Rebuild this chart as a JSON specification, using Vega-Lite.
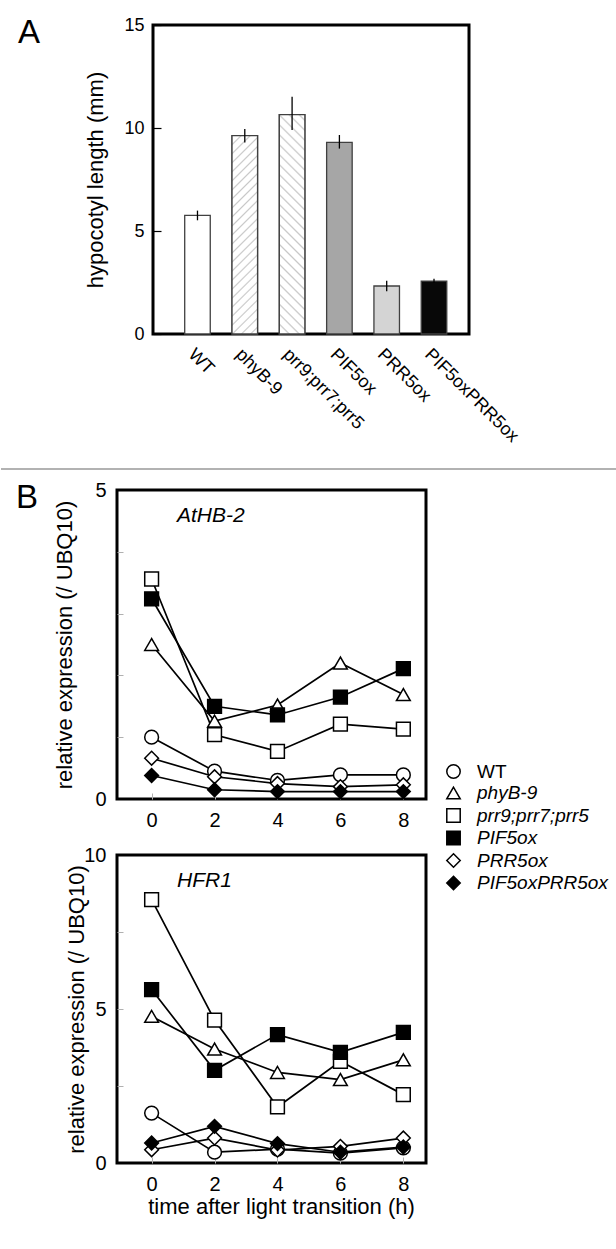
{
  "$schema": "https://vega.github.io/schema/vega-lite/v6.json",
  "padding": {"left": 0, "top": 14, "right": 0, "bottom": 0},
  "spacing": 8,
  "config": {
    "font": "Liberation Sans",
    "view": {"stroke": "black", "strokeWidth": 3},
    "axis": {"labelColor": "black", "titleColor": "black", "grid": false, "domain": false, "titleFontWeight": "normal"},
    "title": {"color": "black", "fontWeight": "normal"},
    "legend": {"labelColor": "black"}
  },
  "datasets": {
    "lengths": [
      {"genotype": "WT", "length": 5.76, "lo": 5.52, "hi": 5.99},
      {"genotype": "phyB-9", "length": 9.63, "lo": 9.3, "hi": 9.95},
      {"genotype": "prr9;prr7;prr5", "length": 10.65, "lo": 9.9, "hi": 11.52},
      {"genotype": "PIF5ox", "length": 9.3, "lo": 9.0, "hi": 9.66},
      {"genotype": "PRR5ox", "length": 2.33, "lo": 2.07, "hi": 2.59},
      {"genotype": "PIF5oxPRR5ox", "length": 2.57, "lo": 2.48, "hi": 2.68}
    ],
    "expression": [
      {"gene": "AtHB-2", "genotype": "WT", "time": 0, "value": 1.0},
      {"gene": "AtHB-2", "genotype": "WT", "time": 2, "value": 0.45},
      {"gene": "AtHB-2", "genotype": "WT", "time": 4, "value": 0.3},
      {"gene": "AtHB-2", "genotype": "WT", "time": 6, "value": 0.39},
      {"gene": "AtHB-2", "genotype": "WT", "time": 8, "value": 0.39},
      {"gene": "AtHB-2", "genotype": "phyB-9", "time": 0, "value": 2.5},
      {"gene": "AtHB-2", "genotype": "phyB-9", "time": 2, "value": 1.26},
      {"gene": "AtHB-2", "genotype": "phyB-9", "time": 4, "value": 1.52},
      {"gene": "AtHB-2", "genotype": "phyB-9", "time": 6, "value": 2.2},
      {"gene": "AtHB-2", "genotype": "phyB-9", "time": 8, "value": 1.69},
      {"gene": "AtHB-2", "genotype": "prr9;prr7;prr5", "time": 0, "value": 3.56},
      {"gene": "AtHB-2", "genotype": "prr9;prr7;prr5", "time": 2, "value": 1.04},
      {"gene": "AtHB-2", "genotype": "prr9;prr7;prr5", "time": 4, "value": 0.77},
      {"gene": "AtHB-2", "genotype": "prr9;prr7;prr5", "time": 6, "value": 1.21},
      {"gene": "AtHB-2", "genotype": "prr9;prr7;prr5", "time": 8, "value": 1.13},
      {"gene": "AtHB-2", "genotype": "PIF5ox", "time": 0, "value": 3.24},
      {"gene": "AtHB-2", "genotype": "PIF5ox", "time": 2, "value": 1.5},
      {"gene": "AtHB-2", "genotype": "PIF5ox", "time": 4, "value": 1.36},
      {"gene": "AtHB-2", "genotype": "PIF5ox", "time": 6, "value": 1.65},
      {"gene": "AtHB-2", "genotype": "PIF5ox", "time": 8, "value": 2.11},
      {"gene": "AtHB-2", "genotype": "PRR5ox", "time": 0, "value": 0.66},
      {"gene": "AtHB-2", "genotype": "PRR5ox", "time": 2, "value": 0.36},
      {"gene": "AtHB-2", "genotype": "PRR5ox", "time": 4, "value": 0.25},
      {"gene": "AtHB-2", "genotype": "PRR5ox", "time": 6, "value": 0.2},
      {"gene": "AtHB-2", "genotype": "PRR5ox", "time": 8, "value": 0.23},
      {"gene": "AtHB-2", "genotype": "PIF5oxPRR5ox", "time": 0, "value": 0.38},
      {"gene": "AtHB-2", "genotype": "PIF5oxPRR5ox", "time": 2, "value": 0.15},
      {"gene": "AtHB-2", "genotype": "PIF5oxPRR5ox", "time": 4, "value": 0.12},
      {"gene": "AtHB-2", "genotype": "PIF5oxPRR5ox", "time": 6, "value": 0.12},
      {"gene": "AtHB-2", "genotype": "PIF5oxPRR5ox", "time": 8, "value": 0.12},
      {"gene": "HFR1", "genotype": "WT", "time": 0, "value": 1.62},
      {"gene": "HFR1", "genotype": "WT", "time": 2, "value": 0.35},
      {"gene": "HFR1", "genotype": "WT", "time": 4, "value": 0.45},
      {"gene": "HFR1", "genotype": "WT", "time": 6, "value": 0.32},
      {"gene": "HFR1", "genotype": "WT", "time": 8, "value": 0.49},
      {"gene": "HFR1", "genotype": "phyB-9", "time": 0, "value": 4.76},
      {"gene": "HFR1", "genotype": "phyB-9", "time": 2, "value": 3.7},
      {"gene": "HFR1", "genotype": "phyB-9", "time": 4, "value": 2.94},
      {"gene": "HFR1", "genotype": "phyB-9", "time": 6, "value": 2.71},
      {"gene": "HFR1", "genotype": "phyB-9", "time": 8, "value": 3.35},
      {"gene": "HFR1", "genotype": "prr9;prr7;prr5", "time": 0, "value": 8.55},
      {"gene": "HFR1", "genotype": "prr9;prr7;prr5", "time": 2, "value": 4.64},
      {"gene": "HFR1", "genotype": "prr9;prr7;prr5", "time": 4, "value": 1.82},
      {"gene": "HFR1", "genotype": "prr9;prr7;prr5", "time": 6, "value": 3.3},
      {"gene": "HFR1", "genotype": "prr9;prr7;prr5", "time": 8, "value": 2.22},
      {"gene": "HFR1", "genotype": "PIF5ox", "time": 0, "value": 5.63},
      {"gene": "HFR1", "genotype": "PIF5ox", "time": 2, "value": 3.01},
      {"gene": "HFR1", "genotype": "PIF5ox", "time": 4, "value": 4.17},
      {"gene": "HFR1", "genotype": "PIF5ox", "time": 6, "value": 3.59},
      {"gene": "HFR1", "genotype": "PIF5ox", "time": 8, "value": 4.24},
      {"gene": "HFR1", "genotype": "PRR5ox", "time": 0, "value": 0.43},
      {"gene": "HFR1", "genotype": "PRR5ox", "time": 2, "value": 0.81},
      {"gene": "HFR1", "genotype": "PRR5ox", "time": 4, "value": 0.42},
      {"gene": "HFR1", "genotype": "PRR5ox", "time": 6, "value": 0.54},
      {"gene": "HFR1", "genotype": "PRR5ox", "time": 8, "value": 0.81},
      {"gene": "HFR1", "genotype": "PIF5oxPRR5ox", "time": 0, "value": 0.65},
      {"gene": "HFR1", "genotype": "PIF5oxPRR5ox", "time": 2, "value": 1.19},
      {"gene": "HFR1", "genotype": "PIF5oxPRR5ox", "time": 4, "value": 0.63},
      {"gene": "HFR1", "genotype": "PIF5oxPRR5ox", "time": 6, "value": 0.35},
      {"gene": "HFR1", "genotype": "PIF5oxPRR5ox", "time": 8, "value": 0.52}
    ]
  },
  "vconcat": [
    {
      "spacing": 0,
      "hconcat": [
        {
          "width": 82,
          "height": 309,
          "view": {"stroke": null},
          "title": {"text": "A", "orient": "top", "anchor": "start", "frame": "group", "fontSize": 33, "fontWeight": "normal", "offset": -25, "dx": 17},
          "data": {"values": []},
          "mark": "point",
          "encoding": {}
        },
        {
          "width": 316,
          "height": 309,
          "data": {"name": "lengths"},
          "encoding": {
            "x": {
              "field": "genotype", "type": "nominal", "sort": null,
              "scale": {"domain": ["WT", "phyB-9", "prr9;prr7;prr5", "PIF5ox", "PRR5ox", "PIF5oxPRR5ox"], "paddingInner": 0.46, "paddingOuter": 0.57, "align": 0.588},
              "axis": {"title": null, "labelAngle": 45, "labelAlign": "left", "labelBaseline": "top", "labelFontSize": 18, "labelPadding": 11, "ticks": false, "domain": false}
            },
            "y": {
              "field": "length", "type": "quantitative",
              "scale": {"domain": [0, 15], "nice": false},
              "axis": {"title": "hypocotyl length (mm)", "titleFontSize": 22, "titlePadding": 16, "values": [0, 5, 10, 15], "tickSize": -8, "tickColor": "black", "tickWidth": 1.2, "labelFontSize": 18, "labelPadding": 17}
            }
          },
          "layer": [
            {
              "mark": {"type": "bar", "stroke": "#404040", "strokeWidth": 1.3},
              "encoding": {
                "fill": {"field": "genotype", "type": "nominal", "legend": null,
                  "scale": {"domain": ["WT", "phyB-9", "prr9;prr7;prr5", "PIF5ox", "PRR5ox", "PIF5oxPRR5ox"], "range": ["#ffffff", "#ffffff", "#ffffff", "#a6a6a6", "#d4d4d4", "#080808"]}}
              }
            },
            {
              "transform": [{"filter": "datum.genotype === 'phyB-9'"}],
              "mark": {"type": "bar", "stroke": "#404040", "strokeWidth": 1.3,
                "fill": {"gradient": "linear", "x1": 0, "y1": 0, "x2": 0.143, "y2": 1.12, "stops": [
                  {"offset": 0, "color": "#ffffff"},
                  {"offset": 0.033, "color": "#ffffff"}, {"offset": 0.04, "color": "#c8c8c8"}, {"offset": 0.047, "color": "#ffffff"},
                  {"offset": 0.073, "color": "#ffffff"}, {"offset": 0.08, "color": "#c8c8c8"}, {"offset": 0.087, "color": "#ffffff"},
                  {"offset": 0.113, "color": "#ffffff"}, {"offset": 0.12, "color": "#c8c8c8"}, {"offset": 0.127, "color": "#ffffff"},
                  {"offset": 0.153, "color": "#ffffff"}, {"offset": 0.16, "color": "#c8c8c8"}, {"offset": 0.167, "color": "#ffffff"},
                  {"offset": 0.193, "color": "#ffffff"}, {"offset": 0.2, "color": "#c8c8c8"}, {"offset": 0.207, "color": "#ffffff"},
                  {"offset": 0.233, "color": "#ffffff"}, {"offset": 0.24, "color": "#c8c8c8"}, {"offset": 0.247, "color": "#ffffff"},
                  {"offset": 0.273, "color": "#ffffff"}, {"offset": 0.28, "color": "#c8c8c8"}, {"offset": 0.287, "color": "#ffffff"},
                  {"offset": 0.313, "color": "#ffffff"}, {"offset": 0.32, "color": "#c8c8c8"}, {"offset": 0.327, "color": "#ffffff"},
                  {"offset": 0.353, "color": "#ffffff"}, {"offset": 0.36, "color": "#c8c8c8"}, {"offset": 0.367, "color": "#ffffff"},
                  {"offset": 0.393, "color": "#ffffff"}, {"offset": 0.4, "color": "#c8c8c8"}, {"offset": 0.407, "color": "#ffffff"},
                  {"offset": 0.433, "color": "#ffffff"}, {"offset": 0.44, "color": "#c8c8c8"}, {"offset": 0.447, "color": "#ffffff"},
                  {"offset": 0.473, "color": "#ffffff"}, {"offset": 0.48, "color": "#c8c8c8"}, {"offset": 0.487, "color": "#ffffff"},
                  {"offset": 0.513, "color": "#ffffff"}, {"offset": 0.52, "color": "#c8c8c8"}, {"offset": 0.527, "color": "#ffffff"},
                  {"offset": 0.553, "color": "#ffffff"}, {"offset": 0.56, "color": "#c8c8c8"}, {"offset": 0.567, "color": "#ffffff"},
                  {"offset": 0.593, "color": "#ffffff"}, {"offset": 0.6, "color": "#c8c8c8"}, {"offset": 0.607, "color": "#ffffff"},
                  {"offset": 0.633, "color": "#ffffff"}, {"offset": 0.64, "color": "#c8c8c8"}, {"offset": 0.647, "color": "#ffffff"},
                  {"offset": 0.673, "color": "#ffffff"}, {"offset": 0.68, "color": "#c8c8c8"}, {"offset": 0.687, "color": "#ffffff"},
                  {"offset": 0.713, "color": "#ffffff"}, {"offset": 0.72, "color": "#c8c8c8"}, {"offset": 0.727, "color": "#ffffff"},
                  {"offset": 0.753, "color": "#ffffff"}, {"offset": 0.76, "color": "#c8c8c8"}, {"offset": 0.767, "color": "#ffffff"},
                  {"offset": 0.793, "color": "#ffffff"}, {"offset": 0.8, "color": "#c8c8c8"}, {"offset": 0.807, "color": "#ffffff"},
                  {"offset": 0.833, "color": "#ffffff"}, {"offset": 0.84, "color": "#c8c8c8"}, {"offset": 0.847, "color": "#ffffff"},
                  {"offset": 0.873, "color": "#ffffff"}, {"offset": 0.88, "color": "#c8c8c8"}, {"offset": 0.887, "color": "#ffffff"},
                  {"offset": 0.913, "color": "#ffffff"}, {"offset": 0.92, "color": "#c8c8c8"}, {"offset": 0.927, "color": "#ffffff"},
                  {"offset": 0.953, "color": "#ffffff"}, {"offset": 0.96, "color": "#c8c8c8"}, {"offset": 0.967, "color": "#ffffff"},
                  {"offset": 1, "color": "#ffffff"}
                ]}
              }
            },
            {
              "transform": [{"filter": "datum.genotype === 'prr9;prr7;prr5'"}],
              "mark": {"type": "bar", "stroke": "#404040", "strokeWidth": 1.3,
                "fill": {"gradient": "linear", "x1": 0, "y1": 1, "x2": 0.13, "y2": -0.12, "stops": [
                  {"offset": 0, "color": "#ffffff"},
                  {"offset": 0.033, "color": "#ffffff"}, {"offset": 0.04, "color": "#c8c8c8"}, {"offset": 0.047, "color": "#ffffff"},
                  {"offset": 0.073, "color": "#ffffff"}, {"offset": 0.08, "color": "#c8c8c8"}, {"offset": 0.087, "color": "#ffffff"},
                  {"offset": 0.113, "color": "#ffffff"}, {"offset": 0.12, "color": "#c8c8c8"}, {"offset": 0.127, "color": "#ffffff"},
                  {"offset": 0.153, "color": "#ffffff"}, {"offset": 0.16, "color": "#c8c8c8"}, {"offset": 0.167, "color": "#ffffff"},
                  {"offset": 0.193, "color": "#ffffff"}, {"offset": 0.2, "color": "#c8c8c8"}, {"offset": 0.207, "color": "#ffffff"},
                  {"offset": 0.233, "color": "#ffffff"}, {"offset": 0.24, "color": "#c8c8c8"}, {"offset": 0.247, "color": "#ffffff"},
                  {"offset": 0.273, "color": "#ffffff"}, {"offset": 0.28, "color": "#c8c8c8"}, {"offset": 0.287, "color": "#ffffff"},
                  {"offset": 0.313, "color": "#ffffff"}, {"offset": 0.32, "color": "#c8c8c8"}, {"offset": 0.327, "color": "#ffffff"},
                  {"offset": 0.353, "color": "#ffffff"}, {"offset": 0.36, "color": "#c8c8c8"}, {"offset": 0.367, "color": "#ffffff"},
                  {"offset": 0.393, "color": "#ffffff"}, {"offset": 0.4, "color": "#c8c8c8"}, {"offset": 0.407, "color": "#ffffff"},
                  {"offset": 0.433, "color": "#ffffff"}, {"offset": 0.44, "color": "#c8c8c8"}, {"offset": 0.447, "color": "#ffffff"},
                  {"offset": 0.473, "color": "#ffffff"}, {"offset": 0.48, "color": "#c8c8c8"}, {"offset": 0.487, "color": "#ffffff"},
                  {"offset": 0.513, "color": "#ffffff"}, {"offset": 0.52, "color": "#c8c8c8"}, {"offset": 0.527, "color": "#ffffff"},
                  {"offset": 0.553, "color": "#ffffff"}, {"offset": 0.56, "color": "#c8c8c8"}, {"offset": 0.567, "color": "#ffffff"},
                  {"offset": 0.593, "color": "#ffffff"}, {"offset": 0.6, "color": "#c8c8c8"}, {"offset": 0.607, "color": "#ffffff"},
                  {"offset": 0.633, "color": "#ffffff"}, {"offset": 0.64, "color": "#c8c8c8"}, {"offset": 0.647, "color": "#ffffff"},
                  {"offset": 0.673, "color": "#ffffff"}, {"offset": 0.68, "color": "#c8c8c8"}, {"offset": 0.687, "color": "#ffffff"},
                  {"offset": 0.713, "color": "#ffffff"}, {"offset": 0.72, "color": "#c8c8c8"}, {"offset": 0.727, "color": "#ffffff"},
                  {"offset": 0.753, "color": "#ffffff"}, {"offset": 0.76, "color": "#c8c8c8"}, {"offset": 0.767, "color": "#ffffff"},
                  {"offset": 0.793, "color": "#ffffff"}, {"offset": 0.8, "color": "#c8c8c8"}, {"offset": 0.807, "color": "#ffffff"},
                  {"offset": 0.833, "color": "#ffffff"}, {"offset": 0.84, "color": "#c8c8c8"}, {"offset": 0.847, "color": "#ffffff"},
                  {"offset": 0.873, "color": "#ffffff"}, {"offset": 0.88, "color": "#c8c8c8"}, {"offset": 0.887, "color": "#ffffff"},
                  {"offset": 0.913, "color": "#ffffff"}, {"offset": 0.92, "color": "#c8c8c8"}, {"offset": 0.927, "color": "#ffffff"},
                  {"offset": 0.953, "color": "#ffffff"}, {"offset": 0.96, "color": "#c8c8c8"}, {"offset": 0.967, "color": "#ffffff"},
                  {"offset": 1, "color": "#ffffff"}
                ]}
              }
            },
            {
              "mark": {"type": "rule", "color": "black", "strokeWidth": 1.3},
              "encoding": {"y": {"field": "lo", "type": "quantitative"}, "y2": {"field": "hi"}}
            }
          ]
        }
      ]
    },
    {
      "width": 616,
      "height": 14,
      "view": {"stroke": null},
      "data": {"values": [{"d": 0}]},
      "mark": {"type": "rule", "color": "#999999", "strokeWidth": 1.5},
      "encoding": {"y": {"field": "d", "type": "quantitative", "scale": {"domain": [0, 1]}, "axis": null}}
    },
    {
      "spacing": 0,
      "hconcat": [
        {
          "width": 51,
          "height": 309,
          "view": {"stroke": null},
          "title": {"text": "B", "orient": "top", "anchor": "start", "frame": "group", "fontSize": 33, "fontWeight": "normal", "offset": -25, "dx": 15},
          "data": {"values": []},
          "mark": "point",
          "encoding": {}
        },
        {
          "bounds": "flush",
          "spacing": 56,
          "resolve": {"scale": {"x": "independent", "y": "independent", "shape": "independent", "fill": "independent"}, "legend": {"shape": "independent", "fill": "independent"}},
          "vconcat": [
            {
              "width": 309,
              "height": 309,
              "title": {"text": "AtHB-2", "orient": "top", "anchor": "start", "frame": "group", "offset": -46, "dx": 60, "fontSize": 21, "fontStyle": "italic", "fontWeight": "normal"},
              "data": {"name": "expression"},
              "transform": [{"filter": "datum.gene === 'AtHB-2'"}],
              "encoding": {
                "x": {"field": "time", "type": "quantitative", "scale": {"domain": [-1.1, 8.72], "nice": false, "zero": false},
                  "axis": {"title": null, "values": [0, 2, 4, 6, 8], "tickSize": -6, "tickColor": "#b0b0b0", "labelFontSize": 20, "labelPadding": 17}},
                "y": {"field": "value", "type": "quantitative", "scale": {"domain": [0, 5], "nice": false},
                  "axis": {"title": "relative expression (/ UBQ10)", "titleFontSize": 22, "titlePadding": 18, "values": [0, 1, 2, 3, 4, 5],
                    "labelExpr": "datum.value == 0 || datum.value == 5 ? datum.label : ''",
                    "tickSize": -6, "tickColor": {"condition": {"test": "datum.value == 0 || datum.value == 5", "value": "transparent"}, "value": "#b0b0b0"},
                    "labelFontSize": 20, "labelPadding": 17}}
              },
              "layer": [
                {"mark": {"type": "line", "color": "black", "strokeWidth": 1.7}, "encoding": {"detail": {"field": "genotype"}}},
                {
                  "mark": {"type": "point", "filled": true, "stroke": "black", "strokeWidth": 1.5, "size": 190, "opacity": 1},
                  "encoding": {
                    "shape": {"field": "genotype", "type": "nominal",
                      "scale": {"domain": ["WT", "phyB-9", "prr9;prr7;prr5", "PIF5ox", "PRR5ox", "PIF5oxPRR5ox"], "range": ["circle", "triangle-up", "square", "square", "diamond", "diamond"]},
                      "legend": {"title": null, "orient": "none", "legendX": 327, "legendY": 272, "padding": 0, "rowPadding": 1.5, "labelFontSize": 19, "labelOffset": 14, "symbolSize": 180, "symbolStrokeColor": "black", "symbolStrokeWidth": 1.5, "symbolOpacity": 1,
                        "encode": {"labels": {"update": {"fontStyle": {"signal": "datum.value === 'WT' ? 'normal' : 'italic'"}}}}}},
                    "fill": {"field": "genotype", "type": "nominal",
                      "scale": {"domain": ["WT", "phyB-9", "prr9;prr7;prr5", "PIF5ox", "PRR5ox", "PIF5oxPRR5ox"], "range": ["#ffffff", "#ffffff", "#ffffff", "#000000", "#ffffff", "#000000"]},
                      "legend": {"title": null, "orient": "none", "legendX": 327, "legendY": 272, "padding": 0, "rowPadding": 1.5, "labelFontSize": 19, "labelOffset": 14, "symbolSize": 180, "symbolStrokeColor": "black", "symbolStrokeWidth": 1.5, "symbolOpacity": 1,
                        "encode": {"labels": {"update": {"fontStyle": {"signal": "datum.value === 'WT' ? 'normal' : 'italic'"}}}}}}
                  }
                }
              ]
            },
            {
              "width": 309,
              "height": 308,
              "title": {"text": "HFR1", "orient": "top", "anchor": "start", "frame": "group", "offset": -46, "dx": 60, "fontSize": 21, "fontStyle": "italic", "fontWeight": "normal"},
              "data": {"name": "expression"},
              "transform": [{"filter": "datum.gene === 'HFR1'"}],
              "encoding": {
                "x": {"field": "time", "type": "quantitative", "scale": {"domain": [-1.1, 8.72], "nice": false, "zero": false},
                  "axis": {"title": "time after light transition (h)", "titleFontSize": 22, "titlePadding": 2, "titleX": 164, "values": [0, 2, 4, 6, 8], "tickSize": -6, "tickColor": "#b0b0b0", "labelFontSize": 20, "labelPadding": 17}},
                "y": {"field": "value", "type": "quantitative", "scale": {"domain": [0, 10], "nice": false},
                  "axis": {"title": "relative expression (/ UBQ10)", "titleFontSize": 22, "titlePadding": -5, "values": [0, 2.5, 5, 7.5, 10],
                    "labelExpr": "datum.value == 0 || datum.value == 5 || datum.value == 10 ? datum.label : ''",
                    "tickSize": -6, "tickColor": {"condition": {"test": "datum.value == 0 || datum.value == 10", "value": "transparent"}, "value": "#b0b0b0"},
                    "labelFontSize": 20, "labelPadding": 17}}
              },
              "layer": [
                {"mark": {"type": "line", "color": "black", "strokeWidth": 1.7}, "encoding": {"detail": {"field": "genotype"}}},
                {
                  "mark": {"type": "point", "filled": true, "stroke": "black", "strokeWidth": 1.5, "size": 190, "opacity": 1},
                  "encoding": {
                    "shape": {"field": "genotype", "type": "nominal", "legend": null,
                      "scale": {"domain": ["WT", "phyB-9", "prr9;prr7;prr5", "PIF5ox", "PRR5ox", "PIF5oxPRR5ox"], "range": ["circle", "triangle-up", "square", "square", "diamond", "diamond"]}},
                    "fill": {"field": "genotype", "type": "nominal", "legend": null,
                      "scale": {"domain": ["WT", "phyB-9", "prr9;prr7;prr5", "PIF5ox", "PRR5ox", "PIF5oxPRR5ox"], "range": ["#ffffff", "#ffffff", "#ffffff", "#000000", "#ffffff", "#000000"]}}
                  }
                }
              ]
            }
          ]
        }
      ]
    }
  ]
}
